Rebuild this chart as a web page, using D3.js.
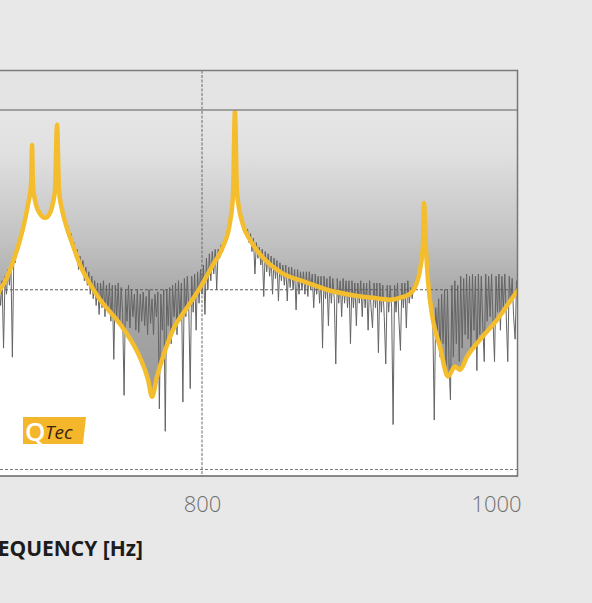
<!DOCTYPE html>
<html>
  <head>
    <title>Frequency Response Fit</title>
    <script src="https://d3js.org/d3.v7.min.js"></script>
    <style>
      body { margin: 0; background: #e8e8e8; }
      svg { display: block; }
      .x-axis .tick text {
        font-family: "Open Sans", sans-serif;
        font-weight: 300;
        font-size: 22px;
        fill: #6f6f6f;
      }
      .axis-label {
        font-family: "Open Sans", sans-serif;
        font-weight: 700;
        font-size: 21px;
        fill: #1c1c1c;
      }
    </style>
  </head>
  <body>
    <svg width="592" height="603"></svg>
    <script>
      // fitted curve (Hz, dB)
      const fitFreq = [658, 662.6, 666, 671.4, 676.2, 679.6, 681.6, 683.7, 684.4, 685,
        687.1, 689.8, 693.2, 696.6, 698.6, 700, 701.4, 702.7, 704.8, 707.5,
        711.6, 717, 723.8, 730.6, 737.4, 744.2, 751, 757.8, 763.3, 766,
        769.4, 773.5, 780.3, 789.8, 798.6, 807.5, 814.3, 819, 821.1, 822.4,
        823.8, 827.9, 832.7, 841.5, 853.1, 871.4, 885, 900.7, 916.3, 927.9,
        934.7, 941.5, 945.6, 948.3, 950.3, 951, 952.4, 953.7, 957.1, 961.9,
        967.3, 972.1, 975.5, 980.3, 989.1, 1000.7, 1014.3, 1020];
      const fitLevel = [-43.5, -40, -38.2, -33.8, -28.9, -24.4, -21.1, -16.7, -7.8, -16.7,
        -21.1, -23.1, -24, -22.9, -20.7, -17.8, -3.3, -17.8, -22.2, -25.6,
        -29.6, -34.4, -38.7, -42.2, -44.9, -47.6, -50.9, -55.1, -60, -63.8,
        -59.3, -54.9, -48.9, -44, -39.6, -34.4, -30.4, -25.1, -18.9, -0.4,
        -18.4, -25.6, -28.9, -32.9, -36, -38.4, -40, -41.1, -41.8, -42.2,
        -41.8, -40.9, -38.9, -35.6, -30, -20.7, -31.1, -37.8, -46.7, -52.7,
        -59.3, -57.1, -57.8, -54.9, -51.1, -46.7, -40.4, -38.2];

      // measured response, 1 Hz steps from measStart
      const measStart = 660;
      const measLevel = [
        -40.5, -44, -39, -43.5, -38, -53, -37, -41, -35.5, -39,        // 660
        -34, -55, -32.5, -34, -30.5, -31.5, -28.5, -28.5, -26, -25.5,  // 670
        -23.5, -22.5, -20, -18.5, -15, -17, -19, -21, -22, -22.5,      // 680
        -23, -23.5, -24, -24, -23.8, -23.4, -23, -22.5, -21.5, -20,    // 690
        -18, -12, -14, -18.5, -20.5, -22.5, -23.5, -24.5, -26.5, -26,  // 700
        -28.5, -27.5, -31, -29.5, -33, -31, -35.5, -32.5, -36, -33.5,  // 710
        -38, -35, -39, -36, -41, -37, -42, -38, -43.5, -38.5,          // 720
        -45.5, -38.5, -44, -38, -46, -39, -45, -38.5, -47, -39,        // 730
        -55.5, -39, -46, -38.5, -48, -39.5, -45, -63.5, -40, -47,      // 740
        -39, -48.5, -40, -46, -41, -49, -40, -49.5, -41, -47,          // 750
        -40.5, -48, -41.5, -50, -40, -47.5, -42, -50, -41, -46,        // 760
        -40.5, -66.5, -41, -49, -40, -71.5, -40, -48, -39.5, -52,      // 770
        -39, -46, -38.5, -50, -38, -47, -38.5, -65, -37.5, -46,        // 780
        -37, -44, -62, -37, -45, -36.5, -49, -36, -43, -35.5,          // 790
        -41, -34.5, -45.5, -33, -40, -32, -38, -31.5, -36.5, -31,      // 800
        -40, -31, -33, -30, -31.5, -29, -29.5, -27, -26.5, -25,        // 810
        -22, -19, -11, -13, -19, -21, -22.5, -24, -25.5, -26.5,        // 820
        -27, -26.5, -29.5, -27.5, -31.5, -28.5, -36.5, -29.5, -33, -30.5, // 830
        -34.5, -31, -41.5, -31.5, -36, -32, -37, -32.5, -41, -33,      // 840
        -37.5, -33.5, -42.5, -34, -38, -34.5, -39, -34.5, -42.5, -35,  // 850
        -39.5, -35, -40, -35.5, -44.5, -35.5, -41, -36, -40, -36,      // 860
        -41, -36, -41.5, -36, -40, -36.5, -44, -36.5, -41, -37,        // 870
        -43, -37, -53, -37, -42, -37.5, -48, -37, -43, -37.5,          // 880
        -42, -56.5, -37.5, -43, -38, -46, -37.5, -43, -38, -44,        // 890
        -38, -52, -38, -44, -38.5, -48, -38.5, -43, -38, -46,          // 900
        -38.5, -44, -38.5, -49, -38, -44, -48.5, -38.5, -44, -38.5,    // 910
        -54, -38.5, -45, -39, -46, -56.5, -39, -45, -39, -44,          // 920
        -70, -39, -45, -38.5, -47, -53.5, -38.5, -44, -38.5, -48.5,    // 930
        -38, -43, -39.5, -42, -39, -40, -38.5, -37.5, -36, -34.5,      // 940
        -31, -21, -28, -34.5, -38.5, -41, -43.5, -46.5, -69, -44,      // 950
        -50, -42, -55, -41, -52, -40, -57, -40, -56, -64.5,            // 960
        -39, -55, -38, -52, -39, -56, -37, -53, -37.5, -50,            // 970
        -36.5, -51, -37, -54, -36.5, -49, -37, -58, -36.5, -50,        // 980
        -37, -48, -56, -36.5, -47, -37, -46, -36.5, -47, -56,          // 990
        -37, -45, -36.5, -49, -37, -44, -36.5, -46, -56, -37,          // 1000
        -43, -37.5, -46, -51, -38, -44, -38                            // 1010
      ];

      const xTicks = [800, 1000];
      const xGrid = [800];
      const yGridDashed = [-40, -80];

      const svg = d3.select("svg");
      const plotLeft = -10;
      const plotRight = 517.5;
      const plotTop = 70.5;
      const plotBottom = 476;

      const x = d3.scaleLinear().domain([800, 1000]).range([202, 496]);
      const y = d3.scaleLinear().domain([0, -80]).range([110, 469.5]);

      const fitData = fitFreq.map((f, i) => ({ f: f, v: fitLevel[i] }));
      const measData = measLevel.map((v, i) => ({ f: measStart + i, v: v }));

      const defs = svg.append("defs");
      defs.append("clipPath")
          .attr("id", "plot-clip")
        .append("rect")
          .attr("x", plotLeft)
          .attr("y", plotTop)
          .attr("width", plotRight - plotLeft)
          .attr("height", plotBottom - plotTop);

      const grad = defs.append("linearGradient")
          .attr("id", "shade")
          .attr("gradientUnits", "userSpaceOnUse")
          .attr("x1", 0).attr("x2", 0)
          .attr("y1", y(0)).attr("y2", 400);
      [[0, "#e6e6e6"], [0.15, "#e0e0e0"], [0.45, "#c2c2c2"], [0.62, "#aaaaaa"], [1, "#999999"]]
        .forEach(s => grad.append("stop").attr("offset", s[0]).attr("stop-color", s[1]));

      // panels
      svg.append("rect")
          .attr("x", plotLeft).attr("y", plotTop)
          .attr("width", plotRight - plotLeft).attr("height", y(0) - plotTop)
          .attr("fill", "#e4e4e4");
      svg.append("rect")
          .attr("x", plotLeft).attr("y", y(0))
          .attr("width", plotRight - plotLeft).attr("height", plotBottom - y(0))
          .attr("fill", "#ffffff");

      const plot = svg.append("g").attr("clip-path", "url(#plot-clip)");

      const area = d3.area()
          .x(d => x(d.f))
          .y0(y(0))
          .y1(d => y(d.v))
          .curve(d3.curveMonotoneX);

      plot.append("path")
          .datum(fitData)
          .attr("d", area)
          .attr("fill", "url(#shade)");

      // grid
      plot.selectAll(".grid-y")
        .data(yGridDashed)
        .enter().append("line")
          .attr("class", "grid-y")
          .attr("x1", plotLeft).attr("x2", plotRight)
          .attr("y1", d => y(d)).attr("y2", d => y(d))
          .attr("stroke", (d, i) => i === 0 ? "#5a5a5a" : "#7a7a7a")
          .attr("stroke-width", 1)
          .attr("stroke-dasharray", "3,2");

      plot.selectAll(".grid-x")
        .data(xGrid)
        .enter().append("line")
          .attr("class", "grid-x")
          .attr("x1", d => x(d)).attr("x2", d => x(d))
          .attr("y1", plotTop).attr("y2", plotBottom)
          .attr("stroke", "#6a6a6a")
          .attr("stroke-width", 1)
          .attr("stroke-dasharray", "3,1.5");

      // measured data
      const measLine = d3.line()
          .x(d => x(d.f))
          .y(d => y(d.v));

      plot.append("path")
          .datum(measData)
          .attr("d", measLine)
          .attr("fill", "none")
          .attr("stroke", "#646464")
          .attr("stroke-width", 1);

      // fit
      const fitLine = d3.line()
          .x(d => x(d.f))
          .y(d => y(d.v))
          .curve(d3.curveMonotoneX);

      plot.append("path")
          .datum(fitData)
          .attr("d", fitLine)
          .attr("fill", "none")
          .attr("stroke", "#f3bd2e")
          .attr("stroke-width", 4.5)
          .attr("stroke-linejoin", "round");

      // frame
      const frame = svg.append("g")
          .attr("stroke-width", 1.5)
          .attr("fill", "none");
      frame.append("line")
          .attr("x1", plotLeft).attr("x2", plotRight)
          .attr("y1", plotTop).attr("y2", plotTop)
          .attr("stroke", "#7c7c7c");
      frame.append("line")
          .attr("x1", plotLeft).attr("x2", plotRight)
          .attr("y1", y(0)).attr("y2", y(0))
          .attr("stroke", "#8a8a8a");
      frame.append("line")
          .attr("x1", plotRight).attr("x2", plotRight)
          .attr("y1", plotTop - 0.75).attr("y2", plotBottom + 0.75)
          .attr("stroke", "#777777");
      frame.append("line")
          .attr("x1", plotLeft).attr("x2", plotRight)
          .attr("y1", plotBottom).attr("y2", plotBottom)
          .attr("stroke", "#666666");

      // x axis
      const xAxis = d3.axisBottom(x)
          .tickValues(xTicks)
          .tickSize(0)
          .tickPadding(0)
          .tickFormat(d3.format("d"));

      svg.append("g")
          .attr("class", "x-axis")
          .attr("transform", "translate(0, 496.5)")
          .call(xAxis)
          .call(g => g.select(".domain").remove());

      svg.append("text")
          .attr("class", "axis-label")
          .attr("x", 143)
          .attr("y", 556)
          .attr("text-anchor", "end")
          .text("FREQUENCY [Hz]");

      // logo
      const logo = svg.append("g").attr("transform", "translate(23, 417)");
      logo.append("path")
          .attr("d", "M0,0H63L60,27H0Z")
          .attr("fill", "#f4b62a");
      logo.append("text")
          .attr("x", 2)
          .attr("y", 24)
          .attr("font-family", "Open Sans, sans-serif")
          .attr("font-weight", 600)
          .attr("font-size", 26)
          .attr("fill", "#ffffff")
          .text("Q");
      logo.append("text")
          .attr("x", 22)
          .attr("y", 22)
          .attr("font-family", "Open Sans, sans-serif")
          .attr("font-style", "italic")
          .attr("font-size", 19)
          .attr("fill", "#3a230f")
          .text("Tec");
    </script>
  </body>
</html>
